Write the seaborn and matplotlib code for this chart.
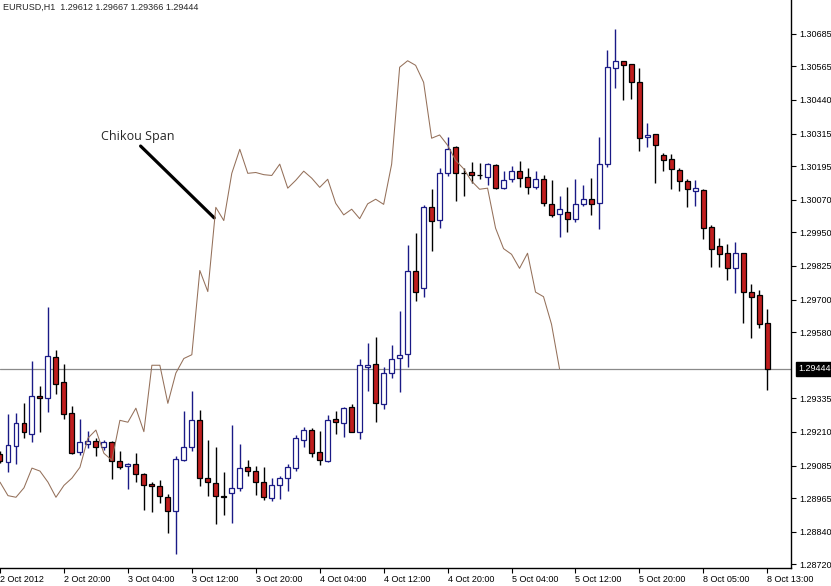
import matplotlib
matplotlib.use("Agg")
import matplotlib.pyplot as plt
import matplotlib.transforms as mtransforms
import numpy as np
import pandas as pd
import seaborn as sns

symbol = "EURUSD,H1"

opens = [1.29129, 1.29100, 1.29159, 1.29242, 1.29204, 1.29344, 1.29334, 1.29489, 1.29395, 1.29281,
         1.29134, 1.29167, 1.29178, 1.29154, 1.29173, 1.29102, 1.29083, 1.29091, 1.29054, 1.29018,
         1.29009, 1.28968, 1.28916, 1.29105, 1.29154, 1.29253, 1.29040, 1.29022, 1.28973, 1.28983,
         1.29002, 1.29079, 1.29065, 1.29023, 1.28965, 1.29013, 1.29039, 1.29078, 1.29179, 1.29217,
         1.29135, 1.29104, 1.29257, 1.29242, 1.29302, 1.29208, 1.29452, 1.29461, 1.29313, 1.29428,
         1.29485, 1.29498, 1.29808, 1.29742, 1.30042, 1.29995, 1.30168, 1.30265, 1.30171, 1.30172,
         1.30160, 1.30153, 1.30199, 1.30115, 1.30146, 1.30176, 1.30153, 1.30116, 1.30146, 1.30053,
         1.30018, 1.30026, 1.29998, 1.30053, 1.30072, 1.30057, 1.30203, 1.30557, 1.30583, 1.30573,
         1.30506, 1.30302, 1.30314, 1.30236, 1.30220, 1.30179, 1.30141, 1.30104, 1.30106, 1.29969,
         1.29898, 1.29872, 1.29816, 1.29872, 1.29729, 1.29716, 1.29612]
highs = [1.29140, 1.29277, 1.29282, 1.29316, 1.29474, 1.29381, 1.29672, 1.29514, 1.29462, 1.29306,
         1.29257, 1.29215, 1.29187, 1.29181, 1.29178, 1.29140, 1.29095, 1.29131, 1.29057, 1.29025,
         1.29032, 1.28981, 1.29121, 1.29288, 1.29361, 1.29292, 1.29179, 1.29154, 1.29062, 1.29236,
         1.29166, 1.29107, 1.29082, 1.29079, 1.29038, 1.29048, 1.29092, 1.29197, 1.29230, 1.29224,
         1.29214, 1.29273, 1.29289, 1.29304, 1.29314, 1.29479, 1.29541, 1.29561, 1.29450, 1.29531,
         1.29658, 1.29903, 1.29946, 1.30051, 1.30109, 1.30187, 1.30302, 1.30270, 1.30187, 1.30209,
         1.30205, 1.30205, 1.30203, 1.30178, 1.30196, 1.30215, 1.30188, 1.30175, 1.30162, 1.30143,
         1.30084, 1.30119, 1.30146, 1.30125, 1.30150, 1.30302, 1.30625, 1.30702, 1.30583, 1.30573,
         1.30557, 1.30356, 1.30314, 1.30245, 1.30239, 1.30187, 1.30148, 1.30143, 1.30111, 1.29977,
         1.29929, 1.29906, 1.29915, 1.29874, 1.29758, 1.29736, 1.29667]
lows = [1.29095, 1.29063, 1.29091, 1.29187, 1.29174, 1.29211, 1.29285, 1.29350, 1.29259, 1.29130,
        1.29124, 1.29150, 1.29122, 1.29144, 1.29037, 1.29072, 1.28998, 1.29026, 1.28919, 1.28915,
        1.28948, 1.28837, 1.28757, 1.29104, 1.29141, 1.29011, 1.28971, 1.28868, 1.28904, 1.28871,
        1.28993, 1.29045, 1.28977, 1.28958, 1.28955, 1.28962, 1.28991, 1.29067, 1.29154, 1.29117,
        1.29087, 1.29100, 1.29203, 1.29191, 1.29209, 1.29184, 1.29363, 1.29245, 1.29296, 1.29408,
        1.29359, 1.29450, 1.29695, 1.29711, 1.29882, 1.29967, 1.30159, 1.30067, 1.30085, 1.30133,
        1.30147, 1.30125, 1.30111, 1.30109, 1.30137, 1.30119, 1.30090, 1.30109, 1.30048, 1.30005,
        1.29931, 1.29952, 1.29989, 1.30047, 1.30014, 1.29961, 1.30190, 1.30483, 1.30440, 1.30445,
        1.30252, 1.30267, 1.30131, 1.30178, 1.30111, 1.30102, 1.30045, 1.30048, 1.29926, 1.29822,
        1.29822, 1.29771, 1.29724, 1.29615, 1.29559, 1.29596, 1.29366]
closes = [1.29104, 1.29162, 1.29242, 1.29208, 1.29344, 1.29334, 1.29492, 1.29389, 1.29278, 1.29132,
          1.29172, 1.29177, 1.29154, 1.29174, 1.29102, 1.29079, 1.29093, 1.29054, 1.29015, 1.29009,
          1.28971, 1.28916, 1.29109, 1.29154, 1.29253, 1.29041, 1.29024, 1.28974, 1.28968, 1.29003,
          1.29076, 1.29065, 1.29024, 1.28968, 1.29012, 1.29039, 1.29079, 1.29187, 1.29217, 1.29131,
          1.29105, 1.29253, 1.29246, 1.29298, 1.29211, 1.29457, 1.29457, 1.29316, 1.29428, 1.29482,
          1.29496, 1.29808, 1.29730, 1.30042, 1.29993, 1.30168, 1.30257, 1.30168, 1.30171, 1.30163,
          1.30160, 1.30202, 1.30113, 1.30142, 1.30176, 1.30150, 1.30116, 1.30146, 1.30057, 1.30014,
          1.30035, 1.30000, 1.30055, 1.30072, 1.30053, 1.30202, 1.30561, 1.30585, 1.30568, 1.30505,
          1.30298, 1.30310, 1.30272, 1.30216, 1.30185, 1.30139, 1.30109, 1.30113, 1.29965, 1.29889,
          1.29868, 1.29816, 1.29872, 1.29728, 1.29711, 1.29609, 1.29444]

time_labels = ["2 Oct 2012", "2 Oct 20:00", "3 Oct 04:00", "3 Oct 12:00", "3 Oct 20:00",
               "4 Oct 04:00", "4 Oct 12:00", "4 Oct 20:00", "5 Oct 04:00", "5 Oct 12:00",
               "5 Oct 20:00", "8 Oct 05:00", "8 Oct 13:00"]
price_ticks = [1.30685, 1.30565, 1.30440, 1.30315, 1.30195, 1.30070, 1.29950, 1.29825,
               1.29700, 1.29580, 1.29335, 1.29210, 1.29085, 1.28965, 1.28840, 1.28720]
chikou_shift = 26

bull_col = "#1a1a86"
bear_col = "#c01e1e"
chikou_col = "#94705a"

sns.set_style("white")
plt.rcParams["font.family"] = ["Liberation Sans", "DejaVu Sans"]

df = pd.DataFrame({"open": opens, "high": highs, "low": lows, "close": closes})
df["bar"] = np.arange(len(df))
df["chikou"] = df["close"].shift(-chikou_shift)
up = df["close"] > df["open"]
down = df["close"] < df["open"]
flat = ~(up | down)

fig = plt.figure(figsize=(8.31, 5.86), dpi=100)
ax = fig.add_axes([0, 18 / 586, 790.7 / 831, 568 / 586])

# price line of the last close
last = df.iloc[-1]
ax.axhline(last["close"], color="#8a8a8a", lw=0.9, zorder=1)

# wicks
wick_cols = np.where(up, bull_col, "black")
ax.vlines(df["bar"], df["low"], df["high"], colors=wick_cols, lw=1.0, zorder=2)

# bodies
body_lo = df[["open", "close"]].min(axis=1)
body_h = (df["close"] - df["open"]).abs()
w = 0.62
ax.bar(df["bar"][up], body_h[up], bottom=body_lo[up], width=w,
       color="white", edgecolor=bull_col, lw=0.9, zorder=3)
ax.bar(df["bar"][down], body_h[down], bottom=body_lo[down], width=w,
       color=bear_col, edgecolor="black", lw=0.9, zorder=3)
ax.bar(df["bar"][flat], body_h[flat], bottom=body_lo[flat], width=w,
       color="black", edgecolor="black", lw=0.9, zorder=3)

# chikou span
sns.lineplot(data=df.dropna(subset=["chikou"]), x="bar", y="chikou",
             color=chikou_col, lw=0.75, ax=ax, zorder=4)

ax.set_xlim(0.0875, 98.925)
ax.set_ylim(1.28706, 1.30810)
ax.set_xlabel("")
ax.set_ylabel("")

for s in ["left", "top"]:
    ax.spines[s].set_visible(False)
for s in ["right", "bottom"]:
    ax.spines[s].set_color("black")
    ax.spines[s].set_linewidth(1.0)

ax.yaxis.tick_right()
ax.set_yticks(price_ticks)
ax.set_yticklabels([f"{v:.5f}" for v in price_ticks])
ax.set_xticks(df["bar"][::8])
ax.set_xticklabels(time_labels, ha="left")
ax.tick_params(axis="y", right=True, left=False, direction="out", length=3.5,
               width=0.8, pad=2.5, labelsize=6.5, colors="black")
ax.tick_params(axis="x", bottom=True, direction="out", length=3.5,
               width=0.8, pad=1.5, labelsize=6.5, colors="black")

# current price tag
tr = mtransforms.blended_transform_factory(ax.transAxes, ax.transData)
ax.text(1.0095, last["close"], f"{last['close']:.5f}", transform=tr, ha="left", va="center",
        color="white", fontsize=6.5, clip_on=False,
        bbox=dict(boxstyle="square,pad=0.3", fc="black", ec="black"))

# callout
ax.text(12.59, 1.30303, "Chikou Span", fontsize=9, family="Open Sans", ha="left", va="center")
ax.annotate("", xy=(26.8, 1.30003), xytext=(17.59, 1.30269),
            arrowprops=dict(arrowstyle="-", lw=2.3, color="black", shrinkA=0, shrinkB=0))

fig.text(3 / 831, 1 - 7.5 / 586,
         f"{symbol}  {last['open']:.5f} {last['high']:.5f} {last['low']:.5f} {last['close']:.5f}",
         fontsize=6.5, ha="left", va="center")

fig.savefig("out.png", dpi=100)
